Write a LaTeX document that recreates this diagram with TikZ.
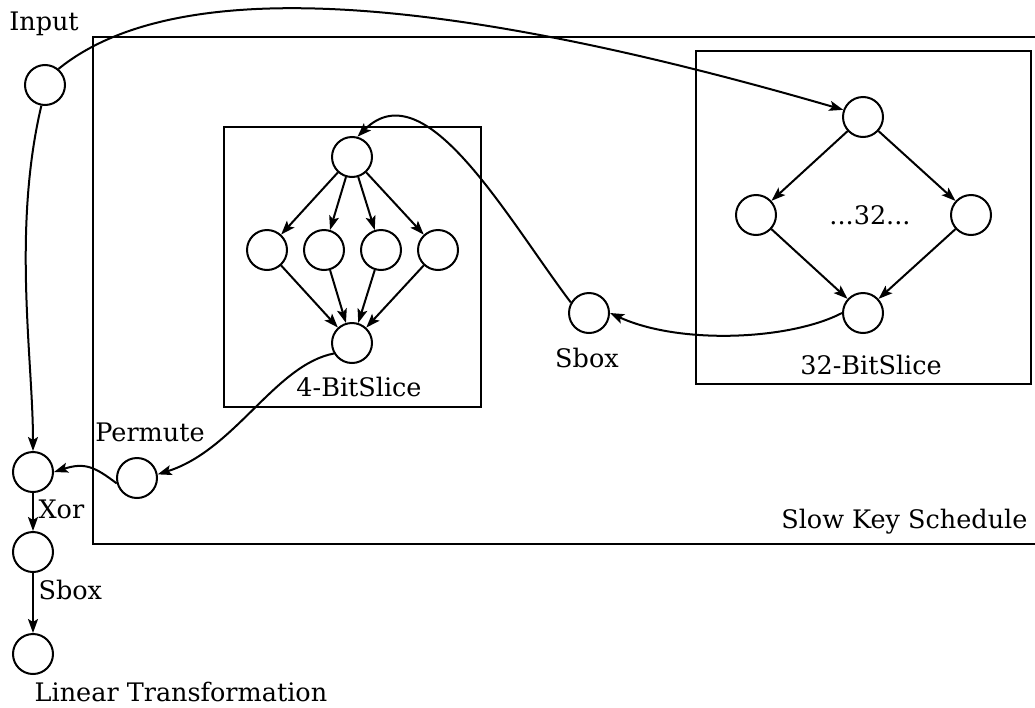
\documentclass[tikz,border=0pt]{standalone}
\usepackage{fontspec}
\setmainfont{DejaVu Serif}
\usetikzlibrary{arrows.meta}
\begin{document}
\begin{tikzpicture}[x=1pt,y=-1pt,
  every node/.style={font=\fontsize{25.5}{30}\selectfont},
  vtx/.style={circle,draw,line width=2pt,minimum size=40pt,inner sep=0pt},
  frame/.style={draw,line width=2pt},
  edge/.style={line width=2pt,-{Stealth[length=14pt,width=10pt,inset=3pt]}}]
\useasboundingbox (0,0) rectangle (1035,707);
% boxes
\draw[frame] (93,37) rectangle (1045,544);
\draw[frame] (224,127) rectangle (481,407);
\draw[frame] (696,51) rectangle (1031,384);
% nodes
\node[vtx] (in) at (45,85) {};
\node[vtx] (xor) at (33,472) {};
\node[vtx] (sb2) at (33,552) {};
\node[vtx] (lin) at (33,654) {};
\node[vtx] (perm) at (137,478) {};
\node[vtx] (t4) at (352,157) {};
\node[vtx] (r1) at (267,250) {};
\node[vtx] (r2) at (324,250) {};
\node[vtx] (r3) at (381,250) {};
\node[vtx] (r4) at (438,250) {};
\node[vtx] (b4) at (352,343) {};
\node[vtx] (t32) at (863,117) {};
\node[vtx] (l32) at (756,215) {};
\node[vtx] (rr32) at (971,215) {};
\node[vtx] (b32) at (863,313) {};
\node[vtx] (sb) at (589,313) {};
% labels
\node (linput) at (44,24) {Input};
\node (lperm) at (150,432) {Permute};
\node[anchor=west] (lxor) at (35,509) {Xor};
\node[anchor=west] (lsb2) at (35,590) {Sbox};
\node (llin) at (181,692) {Linear Transformation};
\node (lsb) at (587,358) {Sbox};
\node (lfour) at (359,387) {4-BitSlice};
\node (lthirty) at (871,365) {32-BitSlice};
\node (ldots) at (870,215) {...32...};
\node[anchor=east] (lslow) at (1031,522) {Slow Key Schedule};
% edges
\draw[edge] (in.50) .. controls (190,-38) and (500,10) .. (t32.160);
\draw[edge] (in.260) .. controls (12,230) and (33,360) .. (xor.north);
\draw[edge] (xor) -- (sb2);
\draw[edge] (sb2) -- (lin);
\draw[edge] (perm.195) .. controls (95,467) and (85,462) .. (xor.east);
\draw[edge] (b4.210) .. controls (275,365) and (235,450) .. (perm.10);
\draw[edge] (sb.150) .. controls (505,215) and (425,70) .. (t4.75);
\draw[edge] (b32.west) .. controls (790,340) and (680,345) .. (sb.east);
\foreach \r in {r1,r2,r3,r4}{
  \draw[edge] (t4) -- (\r);
  \draw[edge] (\r) -- (b4);
}
\draw[edge] (t32) -- (l32);
\draw[edge] (t32) -- (rr32);
\draw[edge] (l32) -- (b32);
\draw[edge] (rr32) -- (b32);
\end{tikzpicture}
\end{document}
